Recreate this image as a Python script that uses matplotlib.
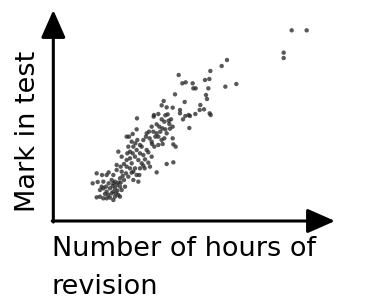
import matplotlib
matplotlib.use("Agg")
import matplotlib.pyplot as plt

hours = [715, 760, 691, 691, 521, 505, 471, 549, 516, 468, 455, 465, 458, 461,
         376, 387, 397, 418, 420, 427, 469, 472, 441, 452, 439, 426, 410, 406,
         396, 389, 408, 331, 325, 340, 358, 365, 394, 380, 380, 343, 336, 315,
         302, 301, 251, 310, 325, 333, 346, 353, 358, 350, 336, 327, 321, 310,
         306, 287, 280, 289, 295, 296, 303, 315, 328, 333, 358, 360, 367, 250,
         238, 227, 220, 252, 246, 260, 265, 250, 240, 238, 260, 270, 285, 295,
         285, 270, 274, 290, 310, 340, 360, 195, 205, 222, 220, 230, 235, 220,
         230, 245, 250, 240, 255, 225, 205, 190, 180, 166, 160, 146, 130, 118,
         133, 150, 166, 180, 190, 200, 205, 215, 185, 170, 160, 140, 130, 140,
         150, 160, 170, 180, 185, 195,
         175, 185, 195, 178, 192, 202, 212, 208, 218, 235, 200, 188, 175, 165,
         155, 145, 158, 230, 245, 255, 265, 275, 280, 270, 278, 300, 315, 325,
         340, 348, 318, 295, 235, 225, 212, 202, 190, 240, 260, 258, 200, 180, 150]
marks = [572, 572, 505, 489, 483, 465, 450, 411, 403, 426, 423, 398, 378, 366,
         438, 413, 416, 413, 398, 398, 323, 318, 348, 335, 333, 321, 315, 318,
         315, 305, 279, 360, 347, 341, 340, 380, 357, 333, 323, 320, 317, 321,
         318, 313, 308, 290, 305, 298, 301, 305, 283, 277, 275, 278, 268, 263,
         253, 268, 263, 248, 238, 231, 223, 228, 231, 248, 248, 230, 223, 275,
         261, 253, 253, 243, 233, 228, 223, 213, 223, 203, 203, 198, 206, 193,
         175, 166, 158, 163, 146, 171, 176, 208, 193, 203, 183, 188, 173, 163,
         158, 158, 138, 123, 118, 133, 148, 153, 138, 146, 138, 138, 143, 113,
         117, 118, 113, 113, 108, 103, 93, 103, 98, 98, 88, 93, 71, 73,
         68, 68, 70, 63, 73, 78,
         123, 118, 115, 105, 91, 115, 123, 135, 143, 145, 128, 83, 83, 78,
         81, 103, 103, 208, 193, 183, 173, 185, 213, 243, 253, 268, 253, 243,
         263, 291, 283, 283, 238, 223, 171, 163, 168, 148, 158, 138, 73, 88, 98]

W, H = 372, 308
fig = plt.figure(figsize=(W / 100, H / 100), dpi=100)
ox, oy = 160 / 3, 663 / 3
ax = fig.add_axes([ox / W, (H - oy) / H, (845 / 3) / W, (633 / 3) / H])
ax.set_xlim(0, 845)
ax.set_ylim(0, 633)
ax.axis("off")

ax.scatter(hours, marks, s=10, color="#222222", alpha=0.75, edgecolors="none")

arrow = dict(arrowstyle="-|>,head_length=17,head_width=7.5", lw=2.2,
             color="black", shrinkA=0, shrinkB=0, mutation_scale=1)
ax.annotate("", xy=(1, 0), xytext=(-0.004, 0), xycoords="axes fraction",
            arrowprops=arrow)
ax.annotate("", xy=(0, 1), xytext=(0, -0.005), xycoords="axes fraction",
            arrowprops=arrow)

font = "DejaVu Sans"
fs = 19.5
fig.text(28 / W, 1 - 131 / H, "Mark in test", rotation=90, ha="center",
         va="center", fontsize=fs, family=font)
fig.text(52 / W, 1 - 256 / H, "Number of hours of", ha="left",
         va="baseline", fontsize=fs, family=font)
fig.text(52 / W, 1 - 294 / H, "revision", ha="left",
         va="baseline", fontsize=fs, family=font)

fig.savefig("out.png", dpi=100, facecolor="white")
